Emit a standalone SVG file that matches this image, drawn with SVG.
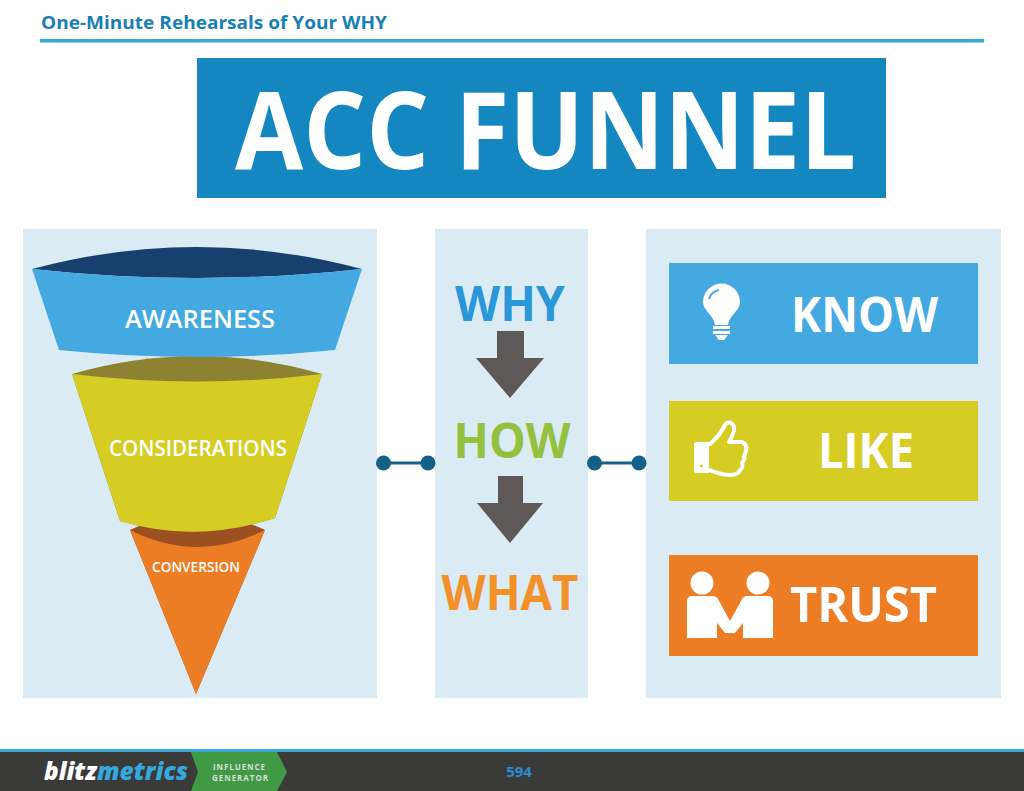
<svg xmlns="http://www.w3.org/2000/svg" width="1024" height="791" viewBox="0 0 1024 791">
<style>
text{font-family:"Open Sans","Noto Sans","Liberation Sans",sans-serif}
.w{fill:#fff}
.panel{fill:#daebf4}
.b{font-weight:700;text-anchor:middle}
.arrow{fill:#5f5859}
.ln{stroke:#146087;stroke-width:3;fill:none}
.dot{fill:#146087}
</style>
<rect width="1024" height="791" fill="#fff"/>
<g id="header">
<text x="41" y="29" font-size="18" font-weight="700" fill="#1a7fb5" textLength="346" lengthAdjust="spacingAndGlyphs">One-Minute Rehearsals of Your WHY</text>
<rect x="40" y="39" width="944" height="3.500" fill="#35a8df"/>
</g>
<g id="title">
<rect x="197" y="58" width="689" height="140" fill="#1486c0"/>
<text x="545.500" y="169" font-size="107" class="w b" textLength="621" lengthAdjust="spacingAndGlyphs">ACC FUNNEL</text>
</g>
<g id="panels">
<rect class="panel" x="23" y="229" width="354" height="469"/>
<rect class="panel" x="435" y="229" width="153" height="469"/>
<rect class="panel" x="646" y="229" width="355" height="469"/>
</g>
<g id="funnel-conversion">
<path d="M130 530Q197 498 265 530L196 694Z" fill="#9c4f21"/>
<path d="M130 530Q197 564 265 530L196 694Z" fill="#ed7d25"/>
<text x="196" y="572" font-size="14.500" class="w" font-weight="600" text-anchor="middle" textLength="88" lengthAdjust="spacingAndGlyphs">CONVERSION</text>
</g>
<g id="funnel-considerations">
<path d="M72 374Q197 338 322 374L275 518Q197 544 120 521Z" fill="#8c8232"/>
<path d="M72 374Q197 389 322 374L275 518Q197 544 120 521Z" fill="#d5cd24"/>
<text x="198" y="456" font-size="22" class="w" font-weight="600" text-anchor="middle" textLength="178" lengthAdjust="spacingAndGlyphs">CONSIDERATIONS</text>
</g>
<g id="funnel-awareness">
<path d="M32 269Q197 225 362 269Q197 287 32 269Z" fill="#17406f"/>
<path d="M32 269Q197 287 362 269L335 350Q197 364 59 350Z" fill="#44a9e0"/>
<text x="200" y="328" font-size="24.500" class="w" font-weight="600" text-anchor="middle" textLength="150" lengthAdjust="spacingAndGlyphs">AWARENESS</text>
</g>
<g id="steps">
<text x="510" y="321" font-size="49" class="b" fill="#2a98d8" textLength="110" lengthAdjust="spacingAndGlyphs">WHY</text>
<path class="arrow" d="M497 331H524V358H544L510 398L476 358H497Z"/>
<text x="512" y="458" font-size="49" class="b" fill="#93c13e" textLength="117" lengthAdjust="spacingAndGlyphs">HOW</text>
<path class="arrow" d="M498 476H523V503H543L510 543L477 503H498Z"/>
<text x="510" y="610" font-size="49" class="b" fill="#f2912a" textLength="137" lengthAdjust="spacingAndGlyphs">WHAT</text>
</g>
<g id="connectors">
<path class="ln" d="M383.500 463H428"/><circle class="dot" cx="383.500" cy="463" r="7.500"/><circle class="dot" cx="428" cy="463" r="7.500"/>
<path class="ln" d="M594.500 463H639"/><circle class="dot" cx="594.500" cy="463" r="7.500"/><circle class="dot" cx="639" cy="463" r="7.500"/>
</g>
<g id="know">
<rect x="669" y="263" width="309" height="101" fill="#44a9e0"/>
<path class="w" d="M715 325C714 315 703 311 703 302A18.500 18.500 0 1 1 740 302C740 311 729 315 728 325Z"/>
<path d="M709 299A13 13 0 0 1 719 290" stroke="#44a9e0" stroke-width="2" fill="none"/>
<rect class="w" x="713" y="326" width="17" height="3"/><rect class="w" x="713" y="331" width="17" height="3"/>
<path class="w" d="M715 335H728L724 340H719Z"/>
<text x="864.500" y="332" font-size="49" class="w b" textLength="147" lengthAdjust="spacingAndGlyphs">KNOW</text>
</g>
<g id="like">
<rect x="669" y="401" width="309" height="100" fill="#d5cd24"/>
<path d="M702 444H710C717 438 722 431 725 425C727 421 733 422 734 427C735 432 731 438 729 442H741C746 443 747 447 746 451C745 453 745 455 744 457C745 459 744 461 742 463C743 466 742 469 740 470C739 474 735 475 730 475C721 475 716 472 709 470H702Z" fill="none" stroke="#fff" stroke-width="4" stroke-linejoin="round"/>
<path class="w" d="M696 442H709V473H696C695 473 694 472 694 471V444C694 443 695 442 696 442Z"/>
<circle cx="701.500" cy="466" r="1.500" fill="#d5cd24"/>
<text x="866" y="468" font-size="49" class="w b" textLength="96" lengthAdjust="spacingAndGlyphs">LIKE</text>
</g>
<g id="trust">
<rect x="669" y="555" width="309" height="101" fill="#ed7d25"/>
<circle class="w" cx="702" cy="583" r="11.500"/><circle class="w" cx="758" cy="583" r="11.500"/>
<path class="w" d="M692 596H712C716 596 718 598 719 601L730 621L741 601C742 598 744 596 748 596H768C771 596 773 598 773 601V638H743V623L735 633H725L717 623V638H687V601C687 598 689 596 692 596Z"/>
<text x="863.500" y="622" font-size="49" class="w b" textLength="147" lengthAdjust="spacingAndGlyphs">TRUST</text>
</g>
<g id="footer">
<rect y="750" width="1024" height="41" fill="#3a3a39"/>
<rect y="749" width="1024" height="3" fill="#35a8df"/>
<path d="M191 752H277L287 772L277 791H191L198 772Z" fill="#409a44"/>
<text x="44" y="780" font-size="25" font-weight="800" font-style="italic" class="w" textLength="53" lengthAdjust="spacingAndGlyphs">blitz</text>
<text x="97" y="780" font-size="25" font-weight="800" font-style="italic" fill="#35a8df" textLength="91" lengthAdjust="spacingAndGlyphs">metrics</text>
<text x="239" y="769.500" font-size="8" class="b" fill="#dcdcdc" textLength="52" lengthAdjust="spacing">INFLUENCE</text>
<text x="240" y="780.500" font-size="8" class="b" fill="#dcdcdc" textLength="56" lengthAdjust="spacing">GENERATOR</text>
<text x="519" y="777" font-size="15" font-weight="700" fill="#2a8fcb" text-anchor="middle">594</text>
</g>
</svg>
